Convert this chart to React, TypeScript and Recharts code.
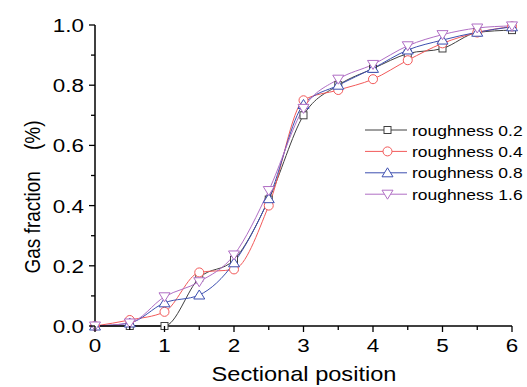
import React from "react";
import { LineChart, Line, XAxis, YAxis, Legend } from "recharts";

const positions = [0, 0.5, 1, 1.5, 2, 2.5, 3, 3.5, 4, 4.5, 5, 5.5, 6];
const rough02 = [0, 0, 0, 0.16, 0.22, 0.42, 0.70, 0.80, 0.855, 0.905, 0.922, 0.975, 0.983];
const rough04 = [0, 0.02, 0.047, 0.178, 0.188, 0.40, 0.75, 0.784, 0.82, 0.883, 0.939, 0.975, 0.995];
const rough08 = [0, 0.01, 0.077, 0.103, 0.21, 0.423, 0.736, 0.80, 0.856, 0.917, 0.95, 0.976, 0.994];
const rough16 = [0, 0.01, 0.097, 0.147, 0.236, 0.45, 0.723, 0.82, 0.869, 0.931, 0.968, 0.99, 0.997];

const xTicks = [0, 0.5, 1, 1.5, 2, 2.5, 3, 3.5, 4, 4.5, 5, 5.5, 6];
const yTicks = [0, 0.1, 0.2, 0.3, 0.4, 0.5, 0.6, 0.7, 0.8, 0.9, 1.0];

const series = [
  { key: "r02", name: "roughness 0.2", color: "#404040", shape: "square" },
  { key: "r04", name: "roughness 0.4", color: "#f25a5a", shape: "circle" },
  { key: "r08", name: "roughness 0.8", color: "#3d4fb0", shape: "up" },
  { key: "r16", name: "roughness 1.6", color: "#b06ec4", shape: "down" },
];

const data = positions.map((x, i) => ({
  x,
  r02: rough02[i],
  r04: rough04[i],
  r08: rough08[i],
  r16: rough16[i],
}));

const FONT = "Arial, 'Liberation Sans', sans-serif";
const SX = 1.18; // the reference text is stretched sideways

function Marker({ shape, cx, cy, color }: { shape: string; cx: number; cy: number; color: string }) {
  const common = { fill: "#fff", stroke: color, strokeWidth: 1 };
  if (shape === "square") return <rect x={cx - 3.5} y={cy - 3.5} width={7} height={7} {...common} />;
  if (shape === "circle") return <circle cx={cx} cy={cy} r={4.5} {...common} />;
  if (shape === "up")
    return <polygon points={`${cx},${cy - 5} ${cx - 5.5},${cy + 4} ${cx + 5.5},${cy + 4}`} {...common} />;
  return <polygon points={`${cx},${cy + 5} ${cx - 5.5},${cy - 4} ${cx + 5.5},${cy - 4}`} {...common} />;
}

const XTick = (props: any) => {
  const { x, y, payload } = props;
  const major = Number.isInteger(payload.value);
  return (
    <g>
      <line x1={x} x2={x} y1={y} y2={y + (major ? 6 : 4)} stroke="#000" strokeWidth={1.3} />
      {major && (
        <text
          transform={`translate(${x},${y + 26}) scale(${SX},1)`}
          textAnchor="middle"
          fontSize={19}
          fontFamily={FONT}
          fill="#000"
        >
          {payload.value}
        </text>
      )}
    </g>
  );
};

const YTick = (props: any) => {
  const { x, y, payload } = props;
  const major = Math.round(payload.value * 10) % 2 === 0;
  return (
    <g>
      <line x1={x} x2={x - (major ? 6 : 4)} y1={y} y2={y} stroke="#000" strokeWidth={1.3} />
      {major && (
        <text
          transform={`translate(${x - 11},${y + 7}) scale(${SX},1)`}
          textAnchor="end"
          fontSize={19}
          fontFamily={FONT}
          fill="#000"
        >
          {payload.value.toFixed(1)}
        </text>
      )}
    </g>
  );
};

const LegendBox = () => (
  <svg width={167} height={92}>
    {series.map((s, i) => {
      const cy = 12 + i * 21.4;
      return (
        <g key={s.key}>
          <line x1={5} x2={47} y1={cy} y2={cy} stroke={s.color} strokeWidth={1} />
          <Marker shape={s.shape} cx={27.5} cy={cy} color={s.color} />
          <text
            transform={`translate(52,${cy + 5.5}) scale(${SX},1)`}
            fontSize={14.8}
            fontFamily={FONT}
            fill="#000"
          >
            {s.name}
          </text>
        </g>
      );
    })}
  </svg>
);

export default function App() {
  return (
    <div style={{ position: "absolute", left: 0, top: 0, width: 527, height: 387, background: "#fff" }}>
      <LineChart width={527} height={387} data={data} margin={{ top: 25, right: 15, left: 0, bottom: 0 }}>
        <XAxis
          dataKey="x"
          type="number"
          domain={[0, 6]}
          ticks={xTicks}
          interval={0}
          height={61}
          tickSize={0}
          tickMargin={0}
          tickLine={false}
          tick={<XTick />}
          axisLine={{ stroke: "#000", strokeWidth: 1.5 }}
          label={{
            content: () => (
              <text
                transform={`translate(304,381) scale(${SX},1)`}
                textAnchor="middle"
                fontSize={20}
                fontFamily={FONT}
                fill="#000"
              >
                Sectional position
              </text>
            ),
          }}
        />
        <YAxis
          type="number"
          domain={[0, 1]}
          ticks={yTicks}
          interval={0}
          width={95}
          tickSize={0}
          tickMargin={0}
          tickLine={false}
          tick={<YTick />}
          axisLine={{ stroke: "#000", strokeWidth: 1.5 }}
          label={{
            content: () => (
              <text
                transform={`translate(40,197) rotate(-90) scale(1,${SX})`}
                textAnchor="middle"
                fontSize={19}
                fontFamily={FONT}
                fill="#000"
              >
                {"Gas fraction\u00a0\u00a0\u00a0\u00a0(%)"}
              </text>
            ),
          }}
        />
        <Legend
          layout="vertical"
          align="center"
          verticalAlign="middle"
          content={() => <LegendBox />}
          wrapperStyle={{ left: 360, top: 118, width: 167, height: 92 }}
        />
        {series.map((s) => (
          <Line
            key={s.key}
            dataKey={s.key}
            name={s.name}
            type="monotone"
            stroke={s.color}
            strokeWidth={1}
            isAnimationActive={false}
            dot={(p: any) => (
              <g key={`${s.key}-${p.index}`}>
                <Marker shape={s.shape} cx={p.cx} cy={p.cy} color={s.color} />
              </g>
            )}
            activeDot={false}
          />
        ))}
      </LineChart>
    </div>
  );
}
